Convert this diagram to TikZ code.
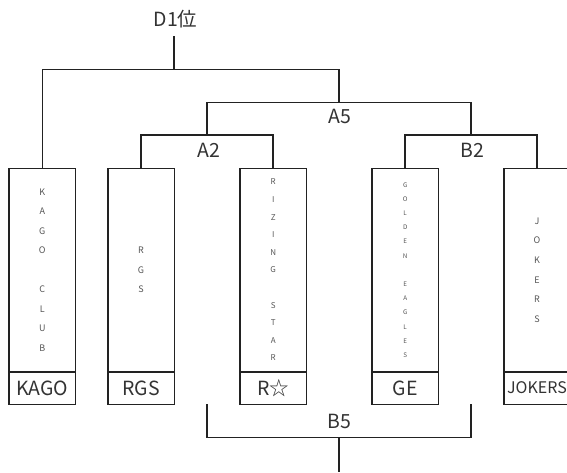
\documentclass[tikz,border=0pt]{standalone}
\usepackage{fontspec}
\setmainfont{Noto Sans CJK JP}
\usetikzlibrary{positioning}
\definecolor{linecol}{HTML}{222222}
\definecolor{textcol}{HTML}{333333}
\definecolor{lettercol}{HTML}{555555}

\begin{document}
\begin{tikzpicture}[
    x = 1pt, y = -1pt,
    line width = 1.5pt,
    namebox/.style={rectangle, draw=linecol, outer sep=0pt, inner sep=0pt, minimum width=66.5pt, minimum height=203.5pt, align=center, text=lettercol},
    tagbox/.style={rectangle, draw=linecol, outer sep=0pt, inner sep=0pt, minimum width=66.5pt, minimum height=32.6pt, font=\fontsize{19.5}{20}\selectfont, text=textcol},
    roundlbl/.style={inner sep=0pt, font=\fontsize{19.5}{20}\selectfont, text=textcol},
    bracket/.style={draw=linecol, line width=1.5pt}
]
\useasboundingbox (0,0) rectangle (567,472);

% Team boxes
\node[namebox, font=\fontsize{9}{19.5}\selectfont] (kago) at (42.3,270) {K\\A\\G\\O\\\mbox{}\\C\\L\\U\\B};
\node[namebox, font=\fontsize{9}{19.5}\selectfont] (rgs) at (141,270) {R\\G\\S};
\node[namebox, font=\fontsize{8}{17.6}\selectfont] (riz) at (273.2,270) {R\\I\\Z\\I\\N\\G\\\mbox{}\\S\\T\\A\\R};
\node[namebox, font=\fontsize{6.3}{14.2}\selectfont] (ge) at (405.2,270) {G\\O\\L\\D\\E\\N\\\mbox{}\\E\\A\\G\\L\\E\\S};
\node[namebox, font=\fontsize{9}{19.6}\selectfont] (jok) at (537,270) {J\\O\\K\\E\\R\\S};

% Short names
\node[tagbox] (kagotag) [below=0pt of kago] {KAGO};
\node[tagbox] (rgstag) [below=0pt of rgs] {RGS};
\node[tagbox] (riztag) [below=0pt of riz] {R☆};
\node[tagbox] (getag) [below=0pt of ge] {GE};
\node[tagbox, font=\fontsize{16}{18}\selectfont] (joktag) [below=0pt of jok] {JOKERS};

% Bracket points
\coordinate (d1stem) at (174,36);
\coordinate (d1bar) at (174,69.3);
\coordinate (a5top) at (339,102.3);
\coordinate (a2) at (207,135);
\coordinate (b2) at (471,135);
\coordinate (b5l) at (207,404.3);
\coordinate (b5r) at (471,404.3);
\coordinate (b5bar) at (339,437.7);
\coordinate (b5end) at (339,472);

% Round labels
\node[roundlbl] (d1) at (175.5,19) {D1位};
\node[roundlbl] (a5lbl) at (340,116.7) {A5};
\node[roundlbl] (a2lbl) at (208.5,150.5) {A2};
\node[roundlbl] (b2lbl) at (472,150.5) {B2};
\node[roundlbl] (b5lbl) at (339.7,421) {B5};

% Brackets
\draw[bracket] (d1stem) -- (d1bar);
\draw[bracket] (kago.north) |- (d1bar) -| (a5top);
\draw[bracket] (a2) |- (a5top) -| (b2);
\draw[bracket] (rgs.north) |- (a2) -| (riz.north);
\draw[bracket] (ge.north) |- (b2) -| (jok.north);
\draw[bracket] (b5l) |- (b5bar) -| (b5r);
\draw[bracket] (b5bar) -- (b5end);

\end{tikzpicture}
\end{document}
